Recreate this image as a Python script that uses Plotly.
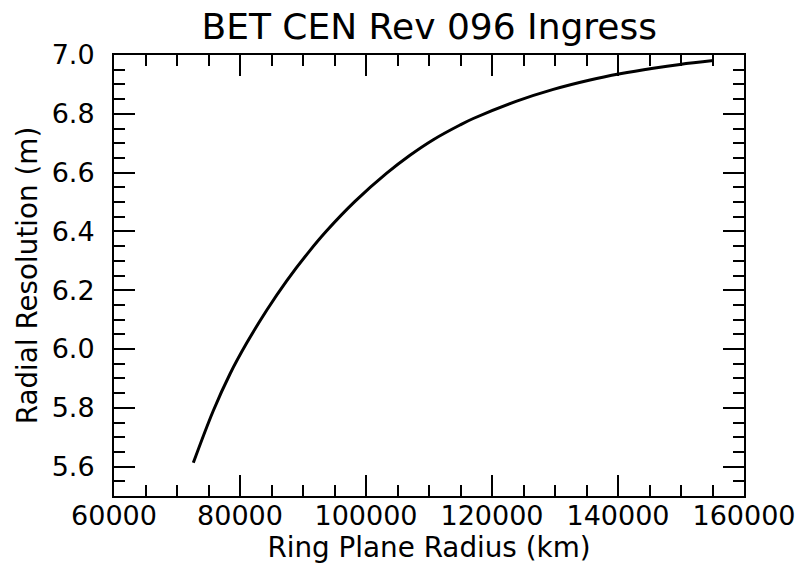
import plotly.graph_objects as go

# Ring plane radius (km) and radial resolution (m)
radius_km = [72590, 75760, 78410, 81060, 84240, 87410, 90840, 93760, 98250,
             103290, 106980, 110680, 114920, 117030, 123920, 129730, 135560,
             140320, 145600, 149840, 155130]
resolution_m = [5.613, 5.790, 5.915, 6.020, 6.132, 6.232, 6.328, 6.402, 6.502,
                6.598, 6.659, 6.712, 6.762, 6.784, 6.843, 6.883, 6.915,
                6.936, 6.955, 6.968, 6.981]

title_text = "BET CEN Rev 096 Ingress"
x_label = "Ring Plane Radius (km)"
y_label = "Radial Resolution (m)"

FONT = "DejaVu Sans"

fig = go.Figure()
fig.add_trace(go.Scatter(
    x=radius_km, y=resolution_m, mode="lines",
    line=dict(color="black", width=3, shape="spline", smoothing=1.0),
    showlegend=False,
))

axis_common = dict(
    showline=True, linecolor="black", linewidth=2, mirror="ticks",
    ticks="inside", ticklen=21, tickwidth=2, tickcolor="black",
    showgrid=False, zeroline=False, automargin=False,
    tickfont=dict(family=FONT, size=27, color="black"),
)

fig.update_xaxes(
    range=[60000, 160000], dtick=20000, tick0=0, tickformat="d",
    title=dict(text=x_label, font=dict(family=FONT, size=27.8, color="black"), standoff=4),
    minor=dict(ticks="inside", ticklen=11, tickwidth=2, tickcolor="black", dtick=5000),
    ticklabelstandoff=-5,
    **axis_common,
)
fig.update_yaxes(
    range=[5.5, 7.0], dtick=0.2, tick0=5.6, tickformat=".1f",
    title=dict(text=y_label, font=dict(family=FONT, size=27.8, color="black"), standoff=6),
    minor=dict(ticks="inside", ticklen=11, tickwidth=2, tickcolor="black", dtick=0.05),
    ticklabelstandoff=12,
    **axis_common,
)

fig.update_layout(
    width=811, height=565,
    margin=dict(l=114, r=67, t=55, b=69, pad=0, autoexpand=False),
    paper_bgcolor="white", plot_bgcolor="white",
    title=dict(text=title_text, x=0.5293, xanchor="center", automargin=False,
               y=1.0, yref="paper", yanchor="bottom", pad=dict(b=16),
               font=dict(family=FONT, size=36, color="black")),
    font=dict(family=FONT, color="black"),
)

fig.write_html("out.html",
               config={"displayModeBar": False},
               post_script="document.body.style.margin='0';document.body.style.overflow='hidden';")
